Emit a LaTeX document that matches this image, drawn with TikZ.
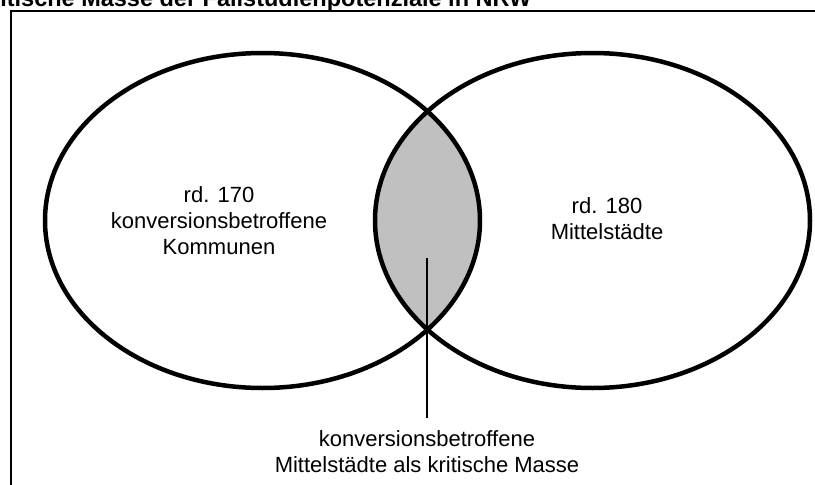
\documentclass[tikz,border=0pt]{standalone}
\usepackage{fontspec}
\setmainfont{Liberation Sans}
\usetikzlibrary{shapes.geometric, positioning}
\definecolor{lensgray}{HTML}{C0C0C0}

\begin{document}
\begin{tikzpicture}[x=1pt, y=-1pt, align=center, font=\fontsize{22}{26}\selectfont,
    venn/.style={draw, ellipse, line width=4.5pt, minimum width=435pt, minimum height=335pt, inner sep=0pt},
    txt/.style={anchor=north, inner sep=0pt}]
    \useasboundingbox (0,0) rectangle (815,485);
    \clip (0,0) rectangle (815,485);
    \node[anchor=base west, inner sep=0pt, font=\fontsize{23.5}{26}\selectfont\bfseries] (titel) at (-26,6) {Kritische Masse der Fallstudienpotenziale in NRW};
    \draw[line width=1.5pt] (11,490) -- (11,11) -- (820,11);
    \begin{scope}
        \clip (262.5,220.5) ellipse [x radius=217.5, y radius=167.5];
        \fill[lensgray] (592.5,220.5) ellipse [x radius=217.5, y radius=167.5];
    \end{scope}
    \node[venn] (komm) at (262.5,220.5) {};
    \node[venn] (mittel) at (592.5,220.5) {};
    \node[txt] (kommtxt) at (219,186) {rd. 170\\konversionsbetroffene\\Kommunen};
    \node[txt] (mitteltxt) at (607,197) {rd. 180\\Mittelstädte};
    \node[txt] (krit) at (427,430) {konversionsbetroffene\\Mittelstädte als kritische Masse};
    \coordinate (lens) at (427,258);
    \draw[line width=2pt] (lens) -- ([yshift=12pt]krit.north);
\end{tikzpicture}
\end{document}
